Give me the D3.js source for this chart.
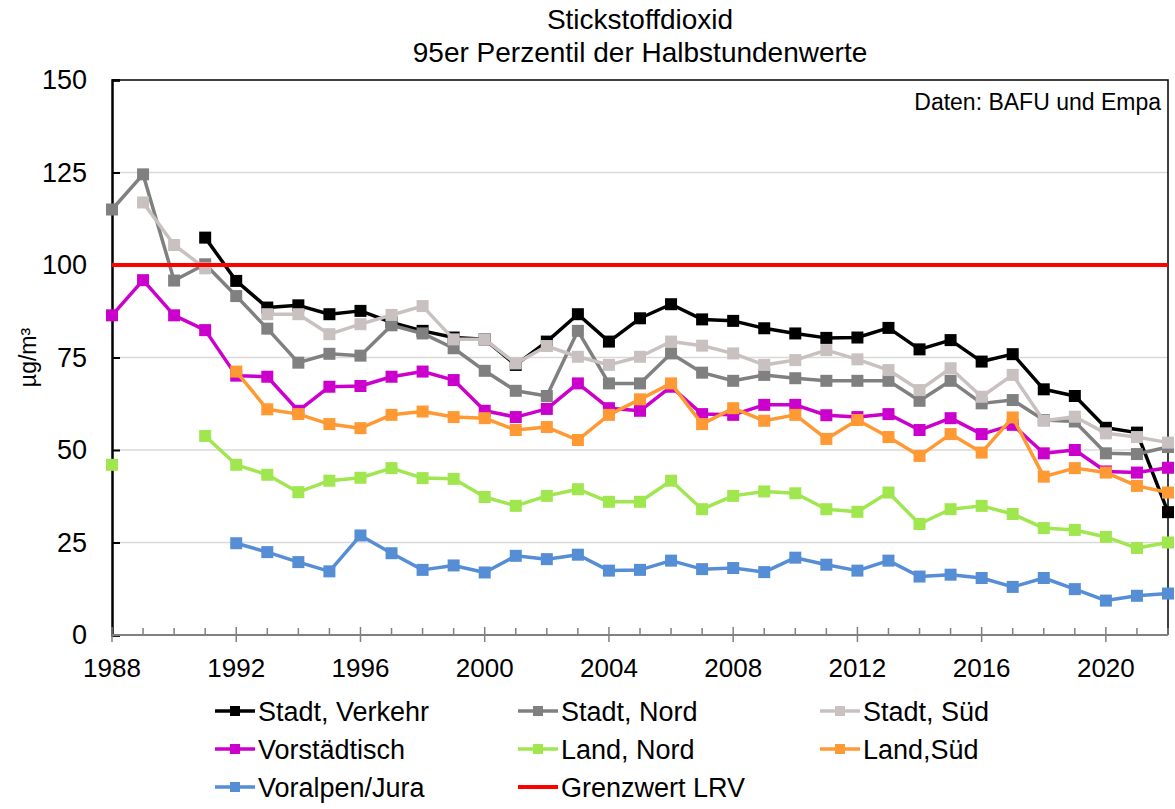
<!DOCTYPE html>
<html>
<head>
<meta charset="utf-8">
<script src="https://cdn.jsdelivr.net/npm/d3@7"></script>
<style>
  body { margin: 0; background: #fff; }
  svg text { font-family: Arial, "Liberation Sans", sans-serif; fill: #000; }
</style>
</head>
<body>
<svg id="chart" width="1175" height="809"></svg>
<script>
// years 1988..2022
const years = d3.range(1988, 2023)

const stadtVerkehr = [null, null, null, 107.4, 95.7, 88.5, 89.1, 86.7, 87.6, 84.5,
  82.2, 80.4, 79.9, 73.0, 79.3, 86.7, 79.3, 85.6, 89.4, 85.3,
  84.9, 82.9, 81.5, 80.3, 80.4, 83.0, 77.2, 79.7, 73.9, 75.9,
  66.4, 64.6, 56.0, 54.7, 33.2]
const stadtNord = [115.0, 124.5, 95.8, 100.2, 91.6, 82.8, 73.6, 76.0, 75.5, 83.7,
  81.5, 77.5, 71.4, 66.0, 64.6, 82.2, 68.0, 68.0, 76.1, 70.9,
  68.7, 70.3, 69.4, 68.7, 68.7, 68.7, 63.3, 68.7, 62.6, 63.5,
  58.1, 57.7, 49.1, 48.9, 50.8]
const stadtSued = [null, 116.9, 105.4, 99.1, null, 86.7, 86.7, 81.3, 84.0, 86.5,
  88.9, 79.9, 79.9, 73.4, 78.1, 75.2, 73.0, 75.2, 79.3, 78.2,
  76.1, 73.0, 74.3, 77.0, 74.5, 71.6, 66.2, 72.1, 64.4, 70.3,
  57.9, 59.0, 54.5, 53.5, 52.0]
const vorstaedtisch = [86.4, 95.9, 86.4, 82.4, 70.1, 69.8, 60.6, 67.1, 67.3, 69.8,
  71.2, 68.9, 60.6, 58.9, 61.1, 68.0, 61.3, 60.6, 67.1, 59.7,
  59.5, 62.2, 62.2, 59.4, 58.9, 59.7, 55.4, 58.6, 54.3, 56.8,
  49.1, 50.0, 44.2, 43.9, 45.2]
const landNord = [46.0, null, null, 53.8, 46.0, 43.3, 38.6, 41.7, 42.5, 45.1,
  42.4, 42.2, 37.3, 34.9, 37.6, 39.4, 36.0, 36.0, 41.7, 34.0,
  37.6, 38.8, 38.3, 34.0, 33.3, 38.5, 30.0, 34.0, 34.9, 32.7,
  28.9, 28.4, 26.5, 23.5, 25.0]
const landSued = [null, null, null, null, 71.2, 61.0, 59.7, 57.0, 55.9, 59.5,
  60.4, 58.9, 58.6, 55.4, 56.2, 52.7, 59.5, 63.7, 68.0, 57.0,
  61.3, 57.9, 59.5, 53.0, 58.1, 53.5, 48.4, 54.3, 49.3, 58.8,
  42.8, 45.1, 43.9, 40.3, 38.5]
const voralpenJura = [null, null, null, null, 24.8, 22.4, 19.7, 17.2, 26.9, 22.1,
  17.6, 18.8, 16.9, 21.4, 20.5, 21.7, 17.4, 17.6, 20.1, 17.8,
  18.1, 17.0, 20.9, 19.0, 17.4, 20.1, 15.8, 16.3, 15.4, 13.0,
  15.4, 12.4, 9.3, 10.6, 11.2]
const grenzwert = 100

const seriesNames = ["Stadt, Verkehr", "Stadt, Nord", "Stadt, Süd", "Vorstädtisch",
  "Land, Nord", "Land,Süd", "Voralpen/Jura"]
const seriesColors = ["#000000", "#808080", "#c9c1c0", "#cc00cc", "#a0e64f", "#ff9933", "#558ed5"]
const seriesValues = [stadtVerkehr, stadtNord, stadtSued, vorstaedtisch, landNord, landSued, voralpenJura]

const yTicks = [0, 25, 50, 75, 100, 125, 150]
const xLabelYears = d3.range(1988, 2021, 4)

const svg = d3.select("#chart")
const pLeft = 112, pRight = 1168, pTop = 80, pBottom = 635

const x = d3.scaleLinear().domain([1988, 2022]).range([pLeft, pRight])
const y = d3.scaleLinear().domain([0, 150]).range([pBottom, pTop])

// gridlines
svg.append("g").selectAll("line")
  .data(yTicks.filter(d => d > 0 && d < 150)).enter().append("line")
  .attr("x1", pLeft).attr("x2", pRight)
  .attr("y1", d => y(d)).attr("y2", d => y(d))
  .attr("stroke", "#d9d9d9").attr("stroke-width", 1.5)

// plot frame (top + right)
svg.append("path")
  .attr("d", `M${pLeft},${pTop}H${pRight}V${pBottom}`)
  .attr("fill", "none").attr("stroke", "#000").attr("stroke-width", 1.5)

// y axis, ticks pointing inward
const yAxis = svg.append("g").attr("transform", `translate(${pLeft},0)`)
  .call(d3.axisLeft(y).tickValues(yTicks).tickSize(-8).tickPadding(25))
yAxis.select(".domain").attr("stroke", "#000").attr("stroke-width", 2.5)
yAxis.selectAll(".tick line").attr("stroke", "#000").attr("stroke-width", 2)
yAxis.selectAll(".tick text").style("font-size", "27px").attr("font-family", null)

// x axis: minor ticks every year, major every 4 years
const xg = svg.append("g")
xg.append("line").attr("x1", pLeft).attr("x2", pRight).attr("y1", pBottom).attr("y2", pBottom)
  .attr("stroke", "#808080").attr("stroke-width", 2)
xg.selectAll(".minor").data(years).enter().append("line")
  .attr("x1", d => x(d)).attr("x2", d => x(d))
  .attr("y1", d => (d - 1988) % 4 === 0 ? pBottom - 8 : pBottom - 7)
  .attr("y2", d => (d - 1988) % 4 === 0 ? pBottom + 7 : pBottom)
  .attr("stroke", "#808080").attr("stroke-width", 1.5)
xg.selectAll(".lab").data(xLabelYears).enter().append("text")
  .attr("x", d => x(d)).attr("y", pBottom + 42)
  .attr("text-anchor", "middle").style("font-size", "26px")
  .text(d => d)

// series lines + markers
const line = d3.line()
  .defined(d => d.v !== null)
  .x(d => x(d.year)).y(d => y(d.v))

seriesValues.forEach((vals, i) => {
  const pts = years.map((yr, j) => ({year: yr, v: vals[j]}))
  const g = svg.append("g")
  g.append("path").datum(pts)
    .attr("d", line).attr("fill", "none")
    .attr("stroke", seriesColors[i]).attr("stroke-width", 3.5)
    .attr("stroke-linejoin", "round")
  g.selectAll("rect").data(pts.filter(d => d.v !== null)).enter().append("rect")
    .attr("x", d => x(d.year) - 6).attr("y", d => y(d.v) - 6)
    .attr("width", 12).attr("height", 12)
    .attr("fill", seriesColors[i])
})

// limit value line
svg.append("line")
  .attr("x1", x(1988)).attr("x2", x(2022))
  .attr("y1", y(grenzwert)).attr("y2", y(grenzwert))
  .attr("stroke", "#ff0000").attr("stroke-width", 4)

// titles
svg.append("text").attr("x", 640).attr("y", 29).attr("text-anchor", "middle")
  .style("font-size", "28px").text("Stickstoffdioxid")
svg.append("text").attr("x", 640).attr("y", 62).attr("text-anchor", "middle")
  .style("font-size", "28px").text("95er Perzentil der Halbstundenwerte")
svg.append("text").attr("x", 1161).attr("y", 110).attr("text-anchor", "end")
  .style("font-size", "23px").text("Daten: BAFU und Empa")
svg.append("text")
  .attr("transform", `translate(36,${(pTop + pBottom) / 2}) rotate(-90)`)
  .attr("text-anchor", "middle").style("font-size", "23px").text("µg/m³")

// legend
const legendItems = seriesNames.map((n, i) => ({name: n, color: seriesColors[i], marker: true}))
legendItems.push({name: "Grenzwert LRV", color: "#ff0000", marker: false})
const colX = [215, 518, 820], rowY = [711, 749, 787]
const lg = svg.append("g").selectAll("g").data(legendItems).enter().append("g")
  .attr("transform", (d, i) => `translate(${colX[i % 3]},${rowY[Math.floor(i / 3)]})`)
lg.append("line").attr("x1", 0).attr("x2", 40).attr("y1", 0).attr("y2", 0)
  .attr("stroke", d => d.color).attr("stroke-width", d => d.marker ? 3.5 : 4)
lg.filter(d => d.marker).append("rect")
  .attr("x", 15).attr("y", -5).attr("width", 10).attr("height", 10)
  .attr("fill", d => d.color)
lg.append("text").attr("x", 43).attr("y", 10).style("font-size", "27px")
  .text(d => d.name)
</script>
</body>
</html>
